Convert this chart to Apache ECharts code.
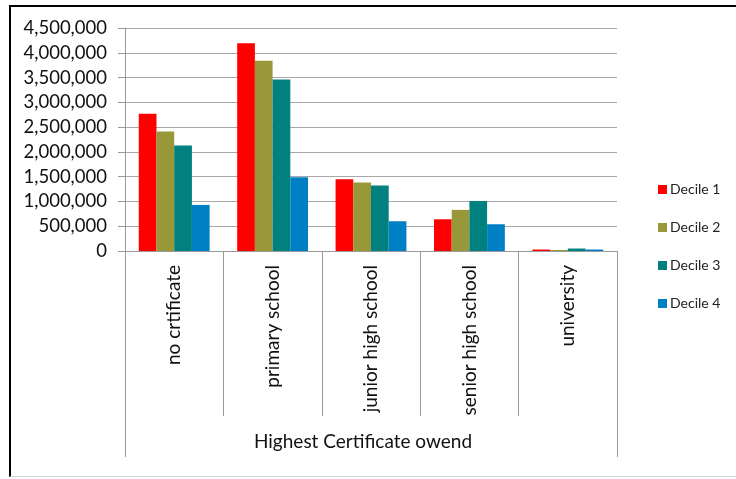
<!DOCTYPE html>
<html>
<head>
<meta charset="utf-8">
<script src="https://cdn.jsdelivr.net/npm/echarts@6/dist/echarts.min.js"></script>
<style>
  html, body { margin: 0; padding: 0; background: #fff; }
  #frame { position: absolute; left: 9px; top: 5px; width: 727px; height: 472px;
           border-top: 2px solid #000; border-left: 2px solid #000; border-bottom: 1px solid #d4d4d4; box-sizing: border-box; }
  #chart { position: absolute; left: 0; top: 0; width: 736px; height: 479px; }
</style>
</head>
<body>
<div id="frame"></div>
<div id="chart"></div>
<script>
const categories = ['no crtificate', 'primary school', 'junior high school', 'senior high school', 'university'];
const groupLabel = ['Highest Certificate owend'];
const seriesNames = ['Decile 1', 'Decile 2', 'Decile 3', 'Decile 4'];
const decile1 = [2770000, 4190000, 1450000, 640000, 30000];
const decile2 = [2410000, 3840000, 1380000, 830000, 20000];
const decile3 = [2130000, 3460000, 1320000, 1010000, 50000];
const decile4 = [930000, 1490000, 600000, 540000, 30000];
const colors = ['#FF0000', '#989838', '#00807F', '#0080C4'];
const yMin = 0, yMax = 4500000, yStep = 500000;

const FONT = 'Lato, "Open Sans", sans-serif';
const chart = echarts.init(document.getElementById('chart'), null, { renderer: 'canvas' });
const values = [decile1, decile2, decile3, decile4];

chart.setOption({
  animation: false,
  backgroundColor: 'transparent',
  color: colors,
  grid: { left: 125, right: 119, top: 28, bottom: 228, containLabel: false },
  legend: {
    orient: 'vertical', left: 653, top: 177,
    itemWidth: 9, itemHeight: 9, itemGap: 23, icon: 'rect',
    textStyle: { fontFamily: FONT, fontSize: 14, color: '#222', lineHeight: 15, padding: [0, 0, 0, -2] },
    data: seriesNames
  },
  xAxis: [
    {
      type: 'category', data: categories, position: 'bottom',
      axisLine: { show: true, lineStyle: { color: '#9a9a9a', width: 1 } },
      axisTick: { show: true, interval: 0, length: 165, lineStyle: { color: '#9a9a9a' } },
      axisLabel: { interval: 0, rotate: 90, margin: 14, fontFamily: FONT, fontSize: 19, color: '#111' },
      splitLine: { show: false }
    },
    {
      type: 'category', data: groupLabel, position: 'bottom',
      axisLine: { show: false },
      axisTick: { show: true, interval: 0, length: 206, lineStyle: { color: '#9a9a9a' } },
      axisLabel: { interval: 0, margin: 181, fontFamily: FONT, fontSize: 19, color: '#111',
        padding: [0, 16, 0, 0] },
      splitLine: { show: false }
    }
  ],
  yAxis: {
    type: 'value', min: yMin, max: yMax, interval: yStep,
    axisLine: { show: true, lineStyle: { color: '#9a9a9a' } },
    axisTick: { show: true, length: 7, lineStyle: { color: '#9a9a9a' } },
    axisLabel: { margin: 18, fontFamily: FONT, fontSize: 18.5, color: '#111',
      formatter: v => v.toLocaleString('en-US') },
    splitLine: { show: true, lineStyle: { color: '#a8a8a8', width: 1 } }
  },
  series: seriesNames.map((n, i) => ({
    name: n, type: 'bar', xAxisIndex: 0, data: values[i],
    barGap: '0%', barCategoryGap: '28%',
    itemStyle: { color: colors[i] }
  }))
});
</script>
</body>
</html>
